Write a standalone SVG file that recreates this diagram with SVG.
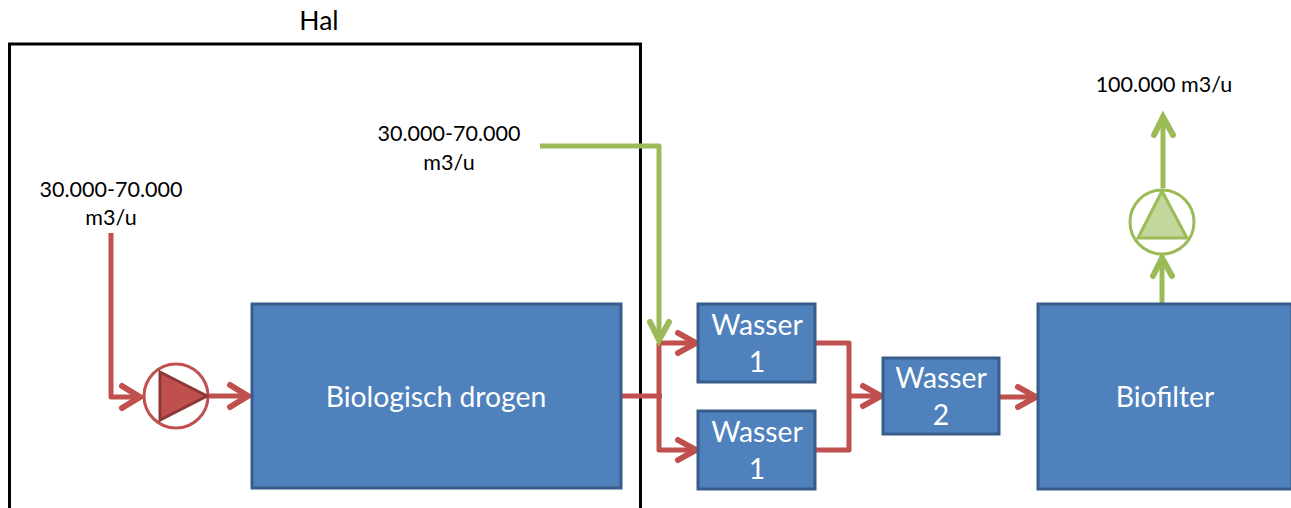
<svg xmlns="http://www.w3.org/2000/svg" width="1291" height="508" viewBox="0 0 1291 508">
<style>
text{font-family:Lato,"Open Sans","Liberation Sans",sans-serif}
.box rect{fill:#4f81bd;stroke:#385d8a;stroke-width:3}
.box text{fill:#fff;font-size:28.300px;text-anchor:middle}
.lbl{fill:#000;font-size:21.500px;text-anchor:middle}
.r{fill:none;stroke:#c0504d;stroke-width:5;stroke-linejoin:round}
.g{fill:none;stroke:#9bbb59;stroke-width:5;stroke-linejoin:round}
.rh{fill:none;stroke:#c0504d;stroke-width:6;stroke-linecap:round;stroke-linejoin:miter}
.gh{fill:none;stroke:#9bbb59;stroke-width:6;stroke-linecap:round;stroke-linejoin:miter}
</style>
<rect width="1291" height="508" fill="#fff"/>
<g id="hal"><path d="M9.500 508V44H640.500V508" fill="none" stroke="#000" stroke-width="3"/>
<text class="lbl" x="319" y="30" style="font-size:26.500px">Hal</text></g>
<g id="connectors">
<path class="r" d="M111 233V397H140"/><path class="rh" d="M122 386L140 397L122 408"/>
<path class="r" d="M208 396H248"/><path class="rh" d="M230 385L248 396L230 407"/>
<path class="r" d="M622 396H662"/>
<path class="r" d="M659 343V450H695"/>
<path class="r" d="M659 343H695"/><path class="rh" d="M678 333L696 343L678 353"/>
<path class="rh" d="M678 440L696 450L678 460"/>
<path class="r" d="M816 343H849V450H816"/>
<path class="r" d="M849 396H880"/><path class="rh" d="M863 386L881 396L863 406"/>
<path class="r" d="M1000 397H1035"/><path class="rh" d="M1018 387L1036 397L1018 407"/>
<path class="g" d="M540 146H659V338"/><path class="gh" d="M650 322L659 340L669 322"/>
<path class="g" d="M1162 304V260"/><path class="gh" d="M1153 276L1162 258L1172 276"/>
<path class="g" d="M1163 188V118"/><path class="gh" d="M1154 135L1163 117L1173 135"/>
</g>
<g id="pump-red"><circle cx="176" cy="396" r="32" fill="#fff" stroke="#c0504d" stroke-width="3"/>
<path d="M160 372L207 396L160 420Z" fill="#c0504d" stroke="#8c3836" stroke-width="3"/></g>
<g id="pump-green"><circle cx="1162" cy="222" r="32" fill="#fff" stroke="#9bbb59" stroke-width="3"/>
<path d="M1162 191L1187 238H1138Z" fill="#c3d69b" stroke="#9bbb59" stroke-width="3"/></g>
<g id="bio" class="box"><rect x="252" y="304" width="369" height="184"/><text x="436" y="407">Biologisch drogen</text></g>
<g id="w1a" class="box"><rect x="698" y="304" width="117" height="78"/><text x="757" y="335">Wasser</text><text x="757" y="372">1</text></g>
<g id="w1b" class="box"><rect x="698" y="411" width="117" height="78"/><text x="757" y="442">Wasser</text><text x="757" y="479">1</text></g>
<g id="w2" class="box"><rect x="883" y="358" width="116" height="76"/><text x="941" y="388">Wasser</text><text x="941" y="425">2</text></g>
<g id="biofilter" class="box"><rect x="1038" y="304" width="254" height="185"/><text x="1165" y="407">Biofilter</text></g>
<g id="labels">
<text class="lbl" x="111" y="197">30.000-70.000</text><text class="lbl" x="111" y="225">m3/u</text>
<text class="lbl" x="449" y="141">30.000-70.000</text><text class="lbl" x="449" y="170">m3/u</text>
<text class="lbl" x="1164" y="92">100.000 m3/u</text>
</g>
</svg>
